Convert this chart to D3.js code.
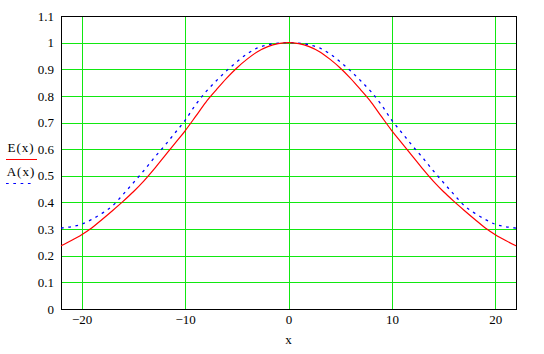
<!DOCTYPE html>
<html>
<head>
<meta charset="utf-8">
<script src="https://cdn.jsdelivr.net/npm/d3@7"></script>
<style>
  body { margin: 0; background: #fff; }
  svg { display: block; }
  text { font-family: "Liberation Serif", "Times New Roman", serif; font-size: 13px; fill: #000; }
</style>
</head>
<body>
<div id="chart"></div>
<script>
// values
const xs = [-22, -21, -20, -19, -18, -17, -16, -15, -14, -13, -12, -11, -10, -9, -8, -7, -6, -5, -4, -3, -2, -1,
  0, 1, 2, 3, 4, 5, 6, 7, 8, 9, 10, 11, 12, 13, 14, 15, 16, 17, 18, 19, 20, 21, 22];
const eVals = [0.237, 0.257, 0.279, 0.305, 0.337, 0.370, 0.404, 0.440, 0.480, 0.525, 0.573, 0.621, 0.669, 0.722,
  0.776, 0.822, 0.866, 0.905, 0.938, 0.966, 0.985, 0.996, 1.0, 0.996, 0.985, 0.966, 0.938, 0.905, 0.866, 0.822,
  0.776, 0.722, 0.669, 0.621, 0.573, 0.525, 0.480, 0.440, 0.404, 0.370, 0.337, 0.305, 0.279, 0.257, 0.237];
const aVals = [0.304, 0.309, 0.318, 0.337, 0.360, 0.388, 0.430, 0.474, 0.519, 0.567, 0.612, 0.660, 0.708, 0.766,
  0.815, 0.856, 0.894, 0.928, 0.958, 0.980, 0.992, 0.998, 1.0, 0.998, 0.992, 0.980, 0.958, 0.928, 0.894, 0.856,
  0.815, 0.766, 0.708, 0.660, 0.612, 0.567, 0.519, 0.474, 0.430, 0.388, 0.360, 0.337, 0.318, 0.309, 0.304];
const xTicks = [-20, -10, 0, 10, 20];
const yTicks = [0, 0.1, 0.2, 0.3, 0.4, 0.5, 0.6, 0.7, 0.8, 0.9, 1, 1.1];

const W = 544, H = 354;
const margin = { top: 16, right: 28, bottom: 45, left: 61 };
const width = W - margin.left - margin.right;
const height = H - margin.top - margin.bottom;

const svg = d3.select("#chart").append("svg").attr("width", W).attr("height", H);
const g = svg.append("g").attr("transform", `translate(${margin.left},${margin.top})`);

const x = d3.scaleLinear().domain([-22, 22]).range([0, width]);
const y = d3.scaleLinear().domain([0, 1.1]).range([height, 0]);

const grid = "#11e811";

// grid lines
g.append("g")
  .attr("transform", `translate(0,${height})`)
  .call(d3.axisBottom(x).tickValues(xTicks).tickSize(-height).tickFormat(""))
  .call((s) => s.select(".domain").remove())
  .selectAll("line").attr("stroke", grid).attr("shape-rendering", "crispEdges");

g.append("g")
  .call(d3.axisLeft(y).tickValues(yTicks).tickSize(-width).tickFormat(""))
  .call((s) => s.select(".domain").remove())
  .selectAll("line").attr("stroke", grid).attr("shape-rendering", "crispEdges");

// tick labels
g.append("g")
  .attr("transform", `translate(0,${height})`)
  .call(d3.axisBottom(x).tickValues(xTicks).tickSize(0).tickPadding(6))
  .call((s) => s.select(".domain").remove());

g.append("g")
  .call(d3.axisLeft(y).tickValues(yTicks).tickSize(0).tickPadding(7).tickFormat((d) => String(+d.toFixed(1))))
  .call((s) => s.select(".domain").remove());

// frame
g.append("rect")
  .attr("x", 0).attr("y", 0).attr("width", width).attr("height", height)
  .attr("fill", "none").attr("stroke", "#000").attr("shape-rendering", "crispEdges");

// curves
const line = (vals) => d3.line().curve(d3.curveMonotoneX).x((d, i) => x(xs[i])).y((d) => y(d))(vals);

g.append("path").attr("d", line(aVals))
  .attr("fill", "none").attr("stroke", "#0000ff").attr("stroke-width", 1.3)
  .attr("stroke-dasharray", "2.7,4.6");

g.append("path").attr("d", line(eVals))
  .attr("fill", "none").attr("stroke", "#ff0000").attr("stroke-width", 1.2);

// x axis label
svg.append("text").attr("x", margin.left + x(0)).attr("y", 344)
  .attr("text-anchor", "middle").text("x");

// legend
svg.append("text").attr("x", 21).attr("y", 152).attr("text-anchor", "middle")
  .attr("letter-spacing", "1px").text("E(x)");
svg.append("line").attr("x1", 6).attr("x2", 37).attr("y1", 159.5).attr("y2", 159.5)
  .attr("stroke", "#ff0000").attr("stroke-width", 1);
svg.append("text").attr("x", 21).attr("y", 176).attr("text-anchor", "middle")
  .attr("letter-spacing", "1px").text("A(x)");
svg.append("line").attr("x1", 6).attr("x2", 33).attr("y1", 183.5).attr("y2", 183.5)
  .attr("stroke", "#0000ff").attr("stroke-width", 1).attr("stroke-dasharray", "2.7,4.6");
</script>
</body>
</html>
